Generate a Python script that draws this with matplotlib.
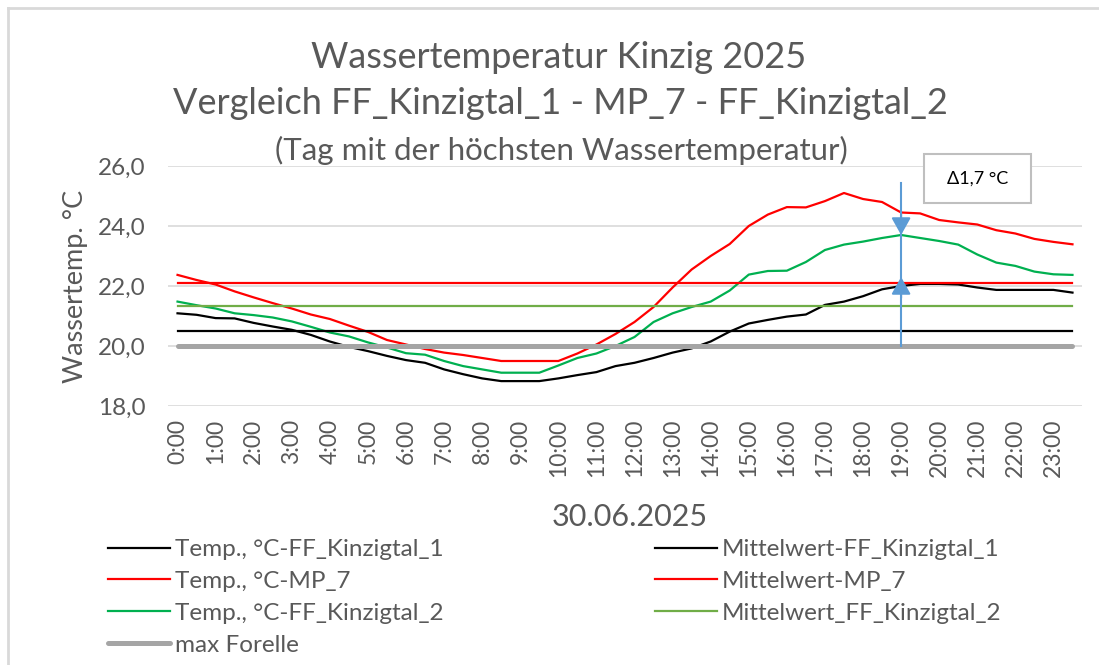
import matplotlib
matplotlib.use('Agg')
import matplotlib.pyplot as plt
from matplotlib.lines import Line2D
from matplotlib.patches import Rectangle

# half-hourly readings 0:00 .. 23:30 on 30.06.2025
TIMES = [f'{h}:{m:02d}' for h in range(24) for m in (0, 30)]

TEMP_FF1 = [21.09, 21.04, 20.93, 20.92, 20.77, 20.65, 20.54, 20.37, 20.15, 19.97,
            19.83, 19.67, 19.53, 19.44, 19.22, 19.06, 18.92, 18.83, 18.83, 18.83,
            18.92, 19.03, 19.13, 19.33, 19.44, 19.60, 19.78, 19.92, 20.15, 20.48,
            20.75, 20.87, 20.98, 21.05, 21.37, 21.48, 21.66, 21.89, 22.00, 22.07,
            22.07, 22.05, 21.95, 21.87, 21.87, 21.87, 21.87, 21.78]
TEMP_MP7 = [22.37, 22.20, 22.05, 21.82, 21.62, 21.43, 21.25, 21.05, 20.90, 20.68,
            20.47, 20.20, 20.05, 19.90, 19.78, 19.70, 19.60, 19.50, 19.50, 19.50,
            19.50, 19.75, 20.05, 20.40, 20.80, 21.30, 21.95, 22.55, 23.00, 23.40,
            24.00, 24.38, 24.63, 24.62, 24.83, 25.10, 24.90, 24.80, 24.45, 24.42,
            24.20, 24.12, 24.05, 23.86, 23.75, 23.57, 23.47, 23.39]
TEMP_FF2 = [21.48, 21.36, 21.25, 21.09, 21.03, 20.95, 20.82, 20.64, 20.45, 20.32,
            20.12, 19.95, 19.76, 19.71, 19.50, 19.33, 19.22, 19.11, 19.11, 19.11,
            19.35, 19.60, 19.75, 20.00, 20.30, 20.80, 21.09, 21.30, 21.48, 21.85,
            22.38, 22.50, 22.51, 22.80, 23.20, 23.38, 23.48, 23.60, 23.70, 23.60,
            23.50, 23.38, 23.05, 22.78, 22.67, 22.48, 22.39, 22.37]

MEAN_FF1 = 20.5
MEAN_MP7 = 22.1
MEAN_FF2 = 21.33
MAX_FORELLE = 20.0

DELTA_TEXT = 'Δ1,7 °C'
ARROW_TOP = 25.45
ARROW_UP_TIP = 22.3

TXT = '#595959'
plt.rcParams['font.family'] = ['Lato', 'DejaVu Sans']


def create():
    fig = plt.figure(figsize=(10.99, 6.65), dpi=100)
    ax = fig.add_axes([168 / 1099, 1 - 406 / 665, 914 / 1099, 240 / 665])

    x = list(range(len(TIMES)))
    n = len(TIMES)

    h1, = ax.plot(x, TEMP_FF1, color='black', lw=1.6)
    h2, = ax.plot(x, TEMP_MP7, color='#FF0000', lw=1.6)
    h3, = ax.plot(x, TEMP_FF2, color='#00B050', lw=1.6)
    m1, = ax.plot(x, [MEAN_FF1] * n, color='black', lw=1.6)
    m2, = ax.plot(x, [MEAN_MP7] * n, color='#FF0000', lw=1.6)
    m3, = ax.plot(x, [MEAN_FF2] * n, color='#70AD47', lw=1.6)
    mf, = ax.plot(x, [MAX_FORELLE] * n, color='#A5A5A5', lw=3.6, solid_capstyle='round')

    # arrow marking the gap at the peak of FF_Kinzigtal_2
    ipk = TEMP_FF2.index(max(TEMP_FF2))
    blue = '#5B9BD5'
    head = '-|>,head_length=0.5,head_width=0.28'
    ax.plot([ipk, ipk], [MAX_FORELLE, ARROW_TOP], color=blue, lw=1.5, zorder=5)
    ax.annotate('', xy=(ipk, TEMP_FF2[ipk]), xytext=(ipk, TEMP_FF2[ipk] + 0.7),
                arrowprops=dict(arrowstyle=head, color=blue, lw=1.5, mutation_scale=21,
                                shrinkA=0, shrinkB=0), zorder=6)
    ax.annotate('', xy=(ipk, ARROW_UP_TIP), xytext=(ipk, ARROW_UP_TIP - 0.7),
                arrowprops=dict(arrowstyle=head, color=blue, lw=1.5, mutation_scale=21,
                                shrinkA=0, shrinkB=0), zorder=6)

    # text box with the difference
    ax.add_patch(Rectangle((39.2, 24.77), 5.6, 1.63, facecolor='white',
                           edgecolor='#BFBFBF', lw=1.5, clip_on=False, zorder=7))
    ax.text(42.0, 25.58, DELTA_TEXT, ha='center', va='center', fontsize=13,
            color='black', zorder=8, clip_on=False)

    ax.set_xlim(-0.5, n - 0.5)
    ax.set_ylim(18, 26)
    ax.set_yticks([18, 20, 22, 24, 26])
    ax.set_yticklabels(['18,0', '20,0', '22,0', '24,0', '26,0'])
    ax.set_xticks(x[::2])
    ax.set_xticklabels(TIMES[::2], rotation=90)
    ax.tick_params(length=0, colors=TXT)
    ax.tick_params(axis='y', labelsize=17.5, pad=16)
    ax.tick_params(axis='x', labelsize=16.5, pad=9)
    ax.grid(axis='y', color='#D9D9D9', lw=1.2)
    ax.set_axisbelow(True)
    for s in ax.spines.values():
        s.set_visible(False)

    ax.set_ylabel('Wassertemp. °C', fontsize=19.5, color=TXT)
    ax.yaxis.set_label_coords(-0.087, 0.5)

    fig.text(630 / 1099, 1 - 517 / 665, '30.06.2025', ha='center', va='center',
             fontsize=22, color=TXT)

    fig.text(559 / 1099, 1 - 58 / 665, 'Wassertemperatur Kinzig 2025', ha='center',
             va='center', fontsize=26, color=TXT)
    fig.text(560 / 1099, 1 - 103 / 665, 'Vergleich FF_Kinzigtal_1 - MP_7 - FF_Kinzigtal_2',
             ha='center', va='center', fontsize=26, color=TXT)
    fig.text(561 / 1099, 1 - 150 / 665, '(Tag mit der höchsten Wassertemperatur)',
             ha='center', va='center', fontsize=22.5, color=TXT)

    handles = [h1, h2, h3, mf, m1, m2, m3]
    labels = ['Temp., °C-FF_Kinzigtal_1', 'Temp., °C-MP_7', 'Temp., °C-FF_Kinzigtal_2',
              'max Forelle', 'Mittelwert-FF_Kinzigtal_1', 'Mittelwert-MP_7',
              'Mittelwert_FF_Kinzigtal_2']
    leg = fig.legend(handles, labels, ncol=2, loc='upper left',
                     bbox_to_anchor=(108 / 1099, 1 - 539 / 665), frameon=False,
                     fontsize=17.5, handlelength=2.55, handletextpad=0.2,
                     columnspacing=8.7, labelspacing=0.45, borderpad=0,
                     borderaxespad=0)
    for t in leg.get_texts():
        t.set_color(TXT)

    # chart area border (left and top edge visible)
    fig.add_artist(Line2D([8 / 1099, 8 / 1099], [0, 1 - 8 / 665], color='#D9D9D9', lw=2))
    fig.add_artist(Line2D([8 / 1099, 1], [1 - 8 / 665, 1 - 8 / 665], color='#D9D9D9', lw=2))

    fig.savefig('out.png', dpi=100)


if __name__ == '__main__':
    create()
